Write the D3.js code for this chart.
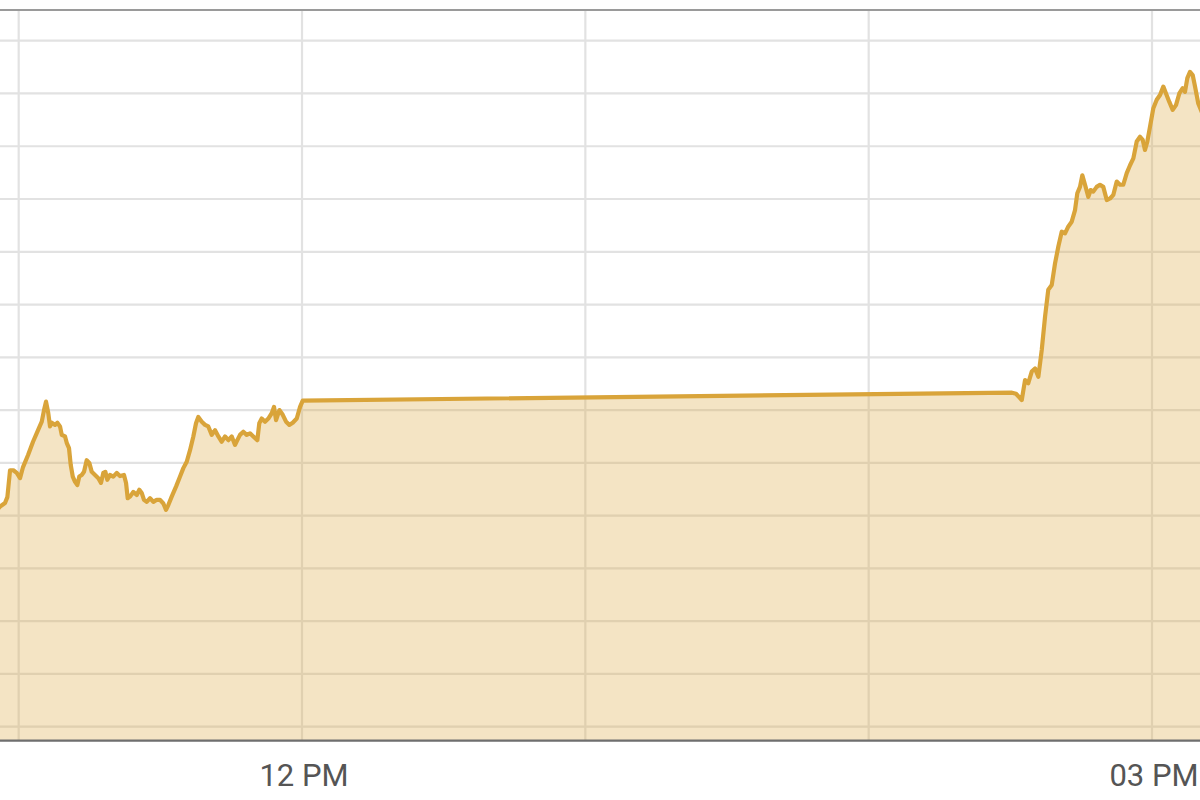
<!DOCTYPE html>
<html>
<head>
<meta charset="utf-8">
<script src="https://cdn.jsdelivr.net/npm/d3@7"></script>
<style>
  body { margin: 0; background: #fff; }
  svg { display: block; }
  .tick-label { font-family: Roboto, "Noto Sans", sans-serif; fill: #555; }
</style>
</head>
<body>
<div id="chart"></div>
<script>
// times of each trade point (hh:mm:ss)
const times = [
  "10:55:25","10:56:03","10:57:06","10:57:36","10:58:10","10:58:52","10:59:35","11:00:17","11:00:55","11:01:59",
  "11:03:02","11:04:06","11:04:53","11:05:22","11:05:47","11:06:16","11:06:38","11:07:00","11:07:42","11:08:11",
  "11:08:45","11:09:07","11:09:49","11:10:10","11:10:39","11:11:01","11:11:27","11:11:56","11:12:25","11:12:50",
  "11:13:21","11:13:50","11:14:24","11:14:57","11:15:28","11:16:10","11:16:52","11:17:26","11:17:55","11:18:21",
  "11:18:46","11:19:20","11:20:02","11:20:46","11:21:27","11:22:18","11:22:44","11:23:05","11:23:35","11:24:16",
  "11:25:00","11:25:33","11:26:03","11:26:32","11:27:07","11:27:49","11:28:31","11:29:14","11:29:56","11:30:38",
  "11:31:12","11:31:41","11:32:24","11:33:19","11:34:10","11:34:52","11:35:35","11:36:17","11:36:59","11:37:33",
  "11:38:02","11:38:46","11:39:28","11:40:09","11:40:53","11:41:35","11:42:17","11:43:00","11:43:42","11:44:24",
  "11:45:07","11:45:49","11:46:18","11:46:52","11:47:34","11:48:17","11:48:59","11:49:41","11:50:32","11:50:57",
  "11:51:28","11:52:10","11:52:52","11:53:35","11:54:04","11:54:30","11:55:12","11:55:55","11:56:37","11:57:19",
  "11:58:02","11:58:53","11:59:35","12:00:09",
  "14:30:21","14:31:12","14:32:25","14:33:07","14:33:48","14:34:32","14:35:14","14:35:56","14:36:39","14:37:21",
  "14:38:02","14:38:46","14:39:28","14:40:10","14:40:53","14:41:35","14:42:17","14:43:00","14:43:42","14:44:11",
  "14:44:45","14:45:15","14:45:49","14:46:31","14:47:01","14:47:34","14:48:17","14:48:59","14:49:41","14:50:25",
  "14:51:07","14:51:49","14:52:32","14:53:14","14:53:55","14:54:39","14:55:21","14:56:03","14:56:46","14:57:28",
  "14:58:02","14:58:31","14:59:01","14:59:35","15:00:17","15:01:00","15:01:42","15:02:24","15:02:58","15:03:40",
  "15:04:23","15:05:05","15:05:47","15:06:30","15:06:59","15:07:29","15:08:03","15:08:37","15:09:07","15:09:48",
  "15:10:48"
];

const prices = [
  2441.1,2441.7,2442.4,2443.5,2448.6,2448.6,2448.1,2447.1,2449.2,2451.5,
  2454.0,2456.2,2457.8,2460.0,2461.6,2459.4,2456.9,2457.6,2457.2,2457.6,
  2456.9,2455.3,2455.0,2453.8,2452.8,2449.6,2447.4,2446.4,2445.8,2447.4,
  2447.7,2448.3,2450.5,2450.0,2448.3,2447.7,2447.1,2446.2,2448.1,2448.3,
  2446.8,2447.7,2447.4,2448.1,2447.5,2447.7,2446.2,2443.3,2443.6,2444.5,
  2443.9,2444.9,2444.3,2443.0,2442.6,2443.3,2442.6,2443.0,2443.0,2442.3,
  2441.1,2442.0,2443.6,2445.5,2447.4,2449.0,2450.2,2452.4,2455.0,2457.5,
  2458.7,2457.8,2457.2,2456.9,2455.3,2456.2,2455.0,2454.0,2455.0,2454.3,
  2455.0,2453.4,2454.3,2455.3,2455.9,2455.3,2455.6,2455.0,2454.3,2457.5,
  2458.4,2457.8,2458.4,2459.4,2460.6,2458.1,2460.0,2459.1,2457.8,2457.2,
  2457.6,2458.4,2460.6,2461.8,
  2463.3,2463.1,2461.9,2465.7,2465.1,2467.3,2467.9,2466.3,2471.4,2477.7,
  2482.8,2483.7,2487.8,2491.0,2493.8,2493.5,2494.8,2495.7,2497.9,2501.1,
  2502.3,2504.5,2502.7,2500.4,2501.7,2501.4,2502.3,2502.7,2502.3,2499.8,
  2500.1,2500.8,2503.3,2502.7,2502.7,2504.9,2506.4,2507.7,2510.9,2511.8,
  2511.2,2509.3,2510.9,2513.7,2517.2,2518.8,2519.7,2521.3,2520.0,2518.4,
  2516.9,2517.8,2520.0,2521.0,2520.3,2522.9,2524.1,2523.5,2521.3,2518.1,
  2515.9
];

// hourly grid and price grid
const hourTicks = ["11:00:00","12:00:00","13:00:00","14:00:00","15:00:00"];
const labelTicks = ["12:00:00","15:00:00"];
const priceTicks = [2400,2410,2420,2430,2440,2450,2460,2470,2480,2490,2500,2510,2520,2530];

window.onload = () => {
  drawChart();
};

function drawChart() {
  const W = 1200, H = 800;
  const top = 10, bottom = 740.7;
  const lineColor = "#d9a43a";

  const parse = d3.timeParse("%H:%M:%S");
  const data = times.map((t, i) => ({ t: parse(t), v: prices[i] }));

  const svg = d3.select("#chart")
    .append("svg")
    .attr("width", W)
    .attr("height", H);

  const x = d3.scaleTime()
    .domain([parse(hourTicks[0]), parse(hourTicks[hourTicks.length - 1])])
    .range([18.7, 1152]);

  const y = d3.scaleLinear()
    .domain([priceTicks[0], priceTicks[priceTicks.length - 1]])
    .range([726.7, 40.7]);

  svg.append("defs").append("clipPath")
    .attr("id", "plot-clip")
    .append("rect")
    .attr("x", 0)
    .attr("y", top)
    .attr("width", W)
    .attr("height", bottom - top);

  const plot = svg.append("g").attr("clip-path", "url(#plot-clip)");

  // grid
  plot.append("g")
    .selectAll("line")
    .data(priceTicks)
    .join("line")
    .attr("x1", 0)
    .attr("x2", W)
    .attr("y1", d => y(d))
    .attr("y2", d => y(d))
    .attr("stroke", "#e2e2e2")
    .attr("stroke-width", 2.2);

  plot.append("g")
    .selectAll("line")
    .data(hourTicks.map(parse))
    .join("line")
    .attr("x1", d => x(d))
    .attr("x2", d => x(d))
    .attr("y1", top)
    .attr("y2", bottom)
    .attr("stroke", "#e2e2e2")
    .attr("stroke-width", 2.2);

  const area = d3.area()
    .x(d => x(d.t))
    .y0(bottom)
    .y1(d => y(d.v));

  const line = d3.line()
    .x(d => x(d.t))
    .y(d => y(d.v));

  plot.append("path")
    .datum(data)
    .attr("d", area)
    .attr("fill", lineColor)
    .attr("fill-opacity", 0.3);

  plot.append("path")
    .datum(data)
    .attr("d", line)
    .attr("fill", "none")
    .attr("stroke", lineColor)
    .attr("stroke-width", 4.2)
    .attr("stroke-linejoin", "round")
    .attr("stroke-linecap", "round");

  // frame lines
  svg.append("line")
    .attr("x1", 0).attr("x2", W)
    .attr("y1", top).attr("y2", top)
    .attr("stroke", "#9a9a9a")
    .attr("stroke-width", 2);

  svg.append("line")
    .attr("x1", 0).attr("x2", W)
    .attr("y1", bottom).attr("y2", bottom)
    .attr("stroke", "#6e6e6e")
    .attr("stroke-width", 2.2);

  const fmt = d3.timeFormat("%I %p");
  svg.append("g")
    .selectAll("text")
    .data(labelTicks.map(parse))
    .join("text")
    .attr("class", "tick-label")
    .attr("x", d => x(d) + 2)
    .attr("y", 786)
    .attr("text-anchor", "middle")
    .attr("font-size", 31)
    .text(d => fmt(d));
}
</script>
</body>
</html>
